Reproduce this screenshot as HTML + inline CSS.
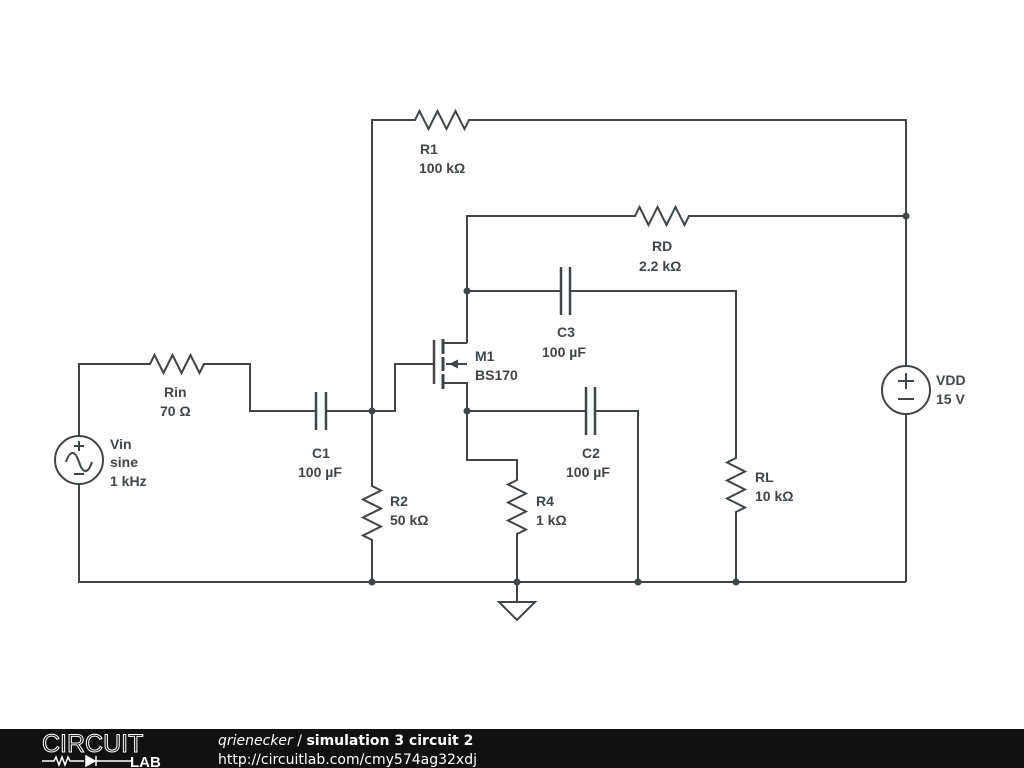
<!DOCTYPE html><html><head><style>body{margin:0;background:#fff}svg{display:block}.l{font-family:"Liberation Sans",Arial,sans-serif;font-weight:bold;font-size:14px;fill:#404549}</style></head><body>
<svg width="1024" height="768" xmlns="http://www.w3.org/2000/svg">
<rect width="1024" height="768" fill="#fff"/>
<g fill="none" stroke="#404549" stroke-width="2">
<path d="M79 484V582H906"/>
<circle cx="79" cy="460" r="24"/>
<path d="M79 436V364H150l4.5-9 9 18 9-18 9 18 9-18 9 18 4.5-9H250V411H316M326 411H395V364H434"/>
<path d="M316 392V430M326 392V430" stroke-width="2.5"/>
<path d="M66 462c4-12 9-12 13 0s9 12 13 0"/>
<path d="M79 441v10M74 446h10M74 474h10"/>
<path d="M372 582V540l-9-4.5 18-9-18-9 18-9-18-9 18-9-9-4.5V120H415l4.5-9 9 18 9-18 9 18 9-18 9 18 4.5-9H906V366"/>
<circle cx="906" cy="390" r="24"/>
<path d="M906 414V582M898 381h16M906 373v16M898 399h16"/>
<path d="M467 343V216H635l4.5-9 9 18 9-18 9 18 9-18 9 18 4.5-9H906"/>
<path d="M467 291H561M570 291H736V458l-9 4.5 18 9-18 9 18 9-18 9 18 9-9 4.5V582"/>
<path d="M561 267V315M570 267V315" stroke-width="2.5"/>
<path d="M434 340V384" stroke-width="2.5"/>
<path d="M443 339V354M443 357V371M443 374V389" stroke-width="3"/>
<path d="M443 343H467M443 383H467V460H517V480l-9 4.5 18 9-18 9 18 9-18 9 18 9-9 4.5V602M467 364H446"/>
<path d="M467 411H586M595 411H638V582"/>
<path d="M586 387V435M595 387V435" stroke-width="2.5"/>
<path d="M499 602H535L517 620Z"/>
</g>
<path d="M449 364l9-4.5v9z" fill="#404549"/>
<g fill="#404549">
<circle cx="372" cy="411" r="3.5"/><circle cx="467" cy="291" r="3.5"/><circle cx="467" cy="411" r="3.5"/>
<circle cx="906" cy="216" r="3.5"/><circle cx="372" cy="582" r="3.5"/><circle cx="517" cy="582" r="3.5"/>
<circle cx="638" cy="582" r="3.5"/><circle cx="736" cy="582" r="3.5"/>
</g>
<g class="l">
<text x="420" y="154">R1</text><text x="419" y="173">100 kΩ</text>
<text x="652" y="251">RD</text><text x="639" y="271">2.2 kΩ</text>
<text x="557" y="337">C3</text><text x="542" y="357">100 µF</text>
<text x="475" y="361">M1</text><text x="475" y="380">BS170</text>
<text x="164" y="397">Rin</text><text x="160" y="416">70 Ω</text>
<text x="110" y="449">Vin</text><text x="110" y="467">sine</text><text x="110" y="486">1 kHz</text>
<text x="312" y="458">C1</text><text x="298" y="477">100 µF</text>
<text x="582" y="458">C2</text><text x="566" y="477">100 µF</text>
<text x="390" y="506">R2</text><text x="390" y="525">50 kΩ</text>
<text x="536" y="506">R4</text><text x="536" y="525">1 kΩ</text>
<text x="755" y="482">RL</text><text x="755" y="501">10 kΩ</text>
<text x="936" y="385">VDD</text><text x="936" y="404">15 V</text>
</g>
<rect x="0" y="729" width="1024" height="39" fill="#111"/>
<text x="42" y="752" style="font-family:'Liberation Sans',sans-serif;font-size:25px" fill="none" stroke="#fff" stroke-width="1">CIRCUIT</text>
<path d="M42 761h12l2-4 3 8 3-8 3 8 3-8 2 4h14" stroke="#fff" fill="none" stroke-width="1.5"/>
<path d="M86 756v10l9-5zM96 756v10M96 761h36" stroke="#fff" fill="#fff" stroke-width="1.5"/>
<text x="130" y="767" style="font-family:'Liberation Sans',sans-serif;font-weight:bold;font-size:15px" fill="#fff">LAB</text>
<text x="218" y="745" style="font-family:'DejaVu Sans',sans-serif;font-size:14px" fill="#fff"><tspan font-style="italic">qrienecker</tspan> / <tspan font-weight="bold">simulation 3 circuit 2</tspan></text>
<text x="218" y="764" style="font-family:'DejaVu Sans',sans-serif;font-size:14px" fill="#fff">http://circuitlab.com/cmy574ag32xdj</text>
</svg>
</body></html>
